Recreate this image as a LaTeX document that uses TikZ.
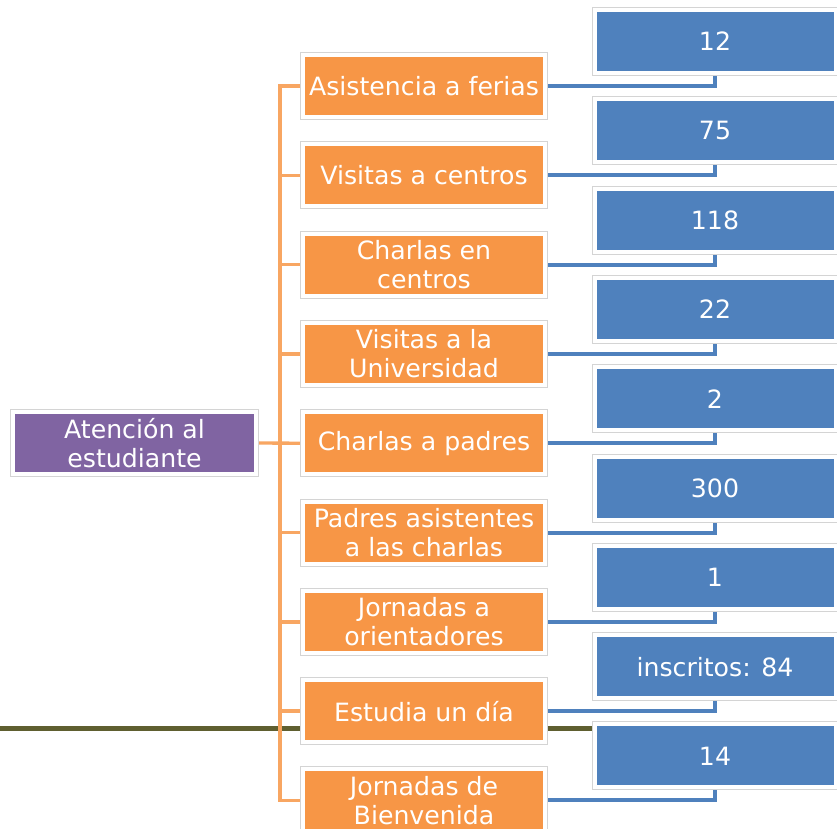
\documentclass[tikz,border=0pt]{standalone}
\usepackage{fontspec}
\setmainfont{DejaVu Sans}
\usepackage{xcolor}
\usepackage{tikz}
\usetikzlibrary{positioning,calc,backgrounds}

\definecolor{naranja}{HTML}{F79646}
\definecolor{azul}{HTML}{4F81BD}
\definecolor{morado}{HTML}{8064A2}
\definecolor{oliva}{HTML}{5F5F30}
\definecolor{borde}{HTML}{D4D4D4}

\tikzset{
  caja/.style={rectangle, inner sep=0pt, align=center, text=white,
    font=\fontsize{21.5}{25}\selectfont,
    draw=white, line width=0.12cm,
    preaction={draw=borde, line width=0.18cm}},
  actividad/.style={caja, fill=naranja, minimum width=7.26cm, minimum height=1.86cm},
  dato/.style={caja, fill=azul, minimum width=7.23cm, minimum height=1.89cm},
  raiz/.style={caja, fill=morado, minimum width=7.26cm, minimum height=1.86cm},
  rama/.style={draw=naranja!85, line width=0.1cm},
  enlace/.style={draw=azul, line width=0.12cm},
}

\begin{document}
\begin{tikzpicture}[x=0.03cm, y=0.03cm, node distance=2.679cm]

\useasboundingbox (0,0) rectangle (837,-828);

% linea de fondo
\coordinate (lineaL) at (0,-728);

\node[raiz] (Raiz) at (134.5,-443) {Atención al\\estudiante};

\node[actividad] (Ferias)                        at (424,-86) {Asistencia a ferias};
\node[actividad] (Visitas)    [below of = Ferias]     {Visitas a centros};
\node[actividad] (Charlas)    [below of = Visitas]    {Charlas en\\centros};
\node[actividad] (Univ)       [below of = Charlas]    {Visitas a la\\Universidad};
\node[actividad] (Padres)     [below of = Univ]       {Charlas a padres};
\node[actividad] (Asist)      [below of = Padres]     {Padres asistentes\\a las charlas};
\node[actividad] (Orient)     [below of = Asist]      {Jornadas a\\orientadores};
\node[actividad] (Estudia)    [below of = Orient]     {Estudia un día};
\node[actividad] (Bienv)      [below of = Estudia]    {Jornadas de\\Bienvenida};

\node[dato] (nFerias)                          at (715,-41.5) {12};
\node[dato] (nVisitas)    [below of = nFerias]     {75};
\node[dato] (nCharlas)    [below of = nVisitas]    {118};
\node[dato] (nUniv)       [below of = nCharlas]    {22};
\node[dato] (nPadres)     [below of = nUniv]       {2};
\node[dato] (nAsist)      [below of = nPadres]     {300};
\node[dato] (nOrient)     [below of = nAsist]      {1};
\node[dato] (nEstudia)    [below of = nOrient]     {inscritos: 84};
\node[dato] (nBienv)      [below of = nEstudia]    {14};

\coordinate (tronco) at (280,0);

% conectores por debajo de las cajas
\begin{pgfonlayer}{background}

\draw[oliva, line width=0.15cm] (lineaL) -- (nBienv.west |- lineaL);

\draw[rama] (Ferias.west) -- (Ferias.west -| tronco) -- (Bienv.west -| tronco) -- (Bienv.west);
\draw[rama] (Visitas.west -| tronco) -- (Visitas.west);
\draw[rama] (Charlas.west -| tronco) -- (Charlas.west);
\draw[rama] (Univ.west -| tronco) -- (Univ.west);
\draw[rama] (Raiz.east) -- (Padres.west);
\draw[rama] (Asist.west -| tronco) -- (Asist.west);
\draw[rama] (Orient.west -| tronco) -- (Orient.west);
\draw[rama] (Estudia.west -| tronco) -- (Estudia.west);

\draw[enlace] (Ferias.east)  -| (nFerias.south);
\draw[enlace] (Visitas.east) -| (nVisitas.south);
\draw[enlace] (Charlas.east) -| (nCharlas.south);
\draw[enlace] (Univ.east)    -| (nUniv.south);
\draw[enlace] (Padres.east)  -| (nPadres.south);
\draw[enlace] (Asist.east)   -| (nAsist.south);
\draw[enlace] (Orient.east)  -| (nOrient.south);
\draw[enlace] (Estudia.east) -| (nEstudia.south);
\draw[enlace] (Bienv.east)   -| (nBienv.south);

\end{pgfonlayer}

\end{tikzpicture}
\end{document}
